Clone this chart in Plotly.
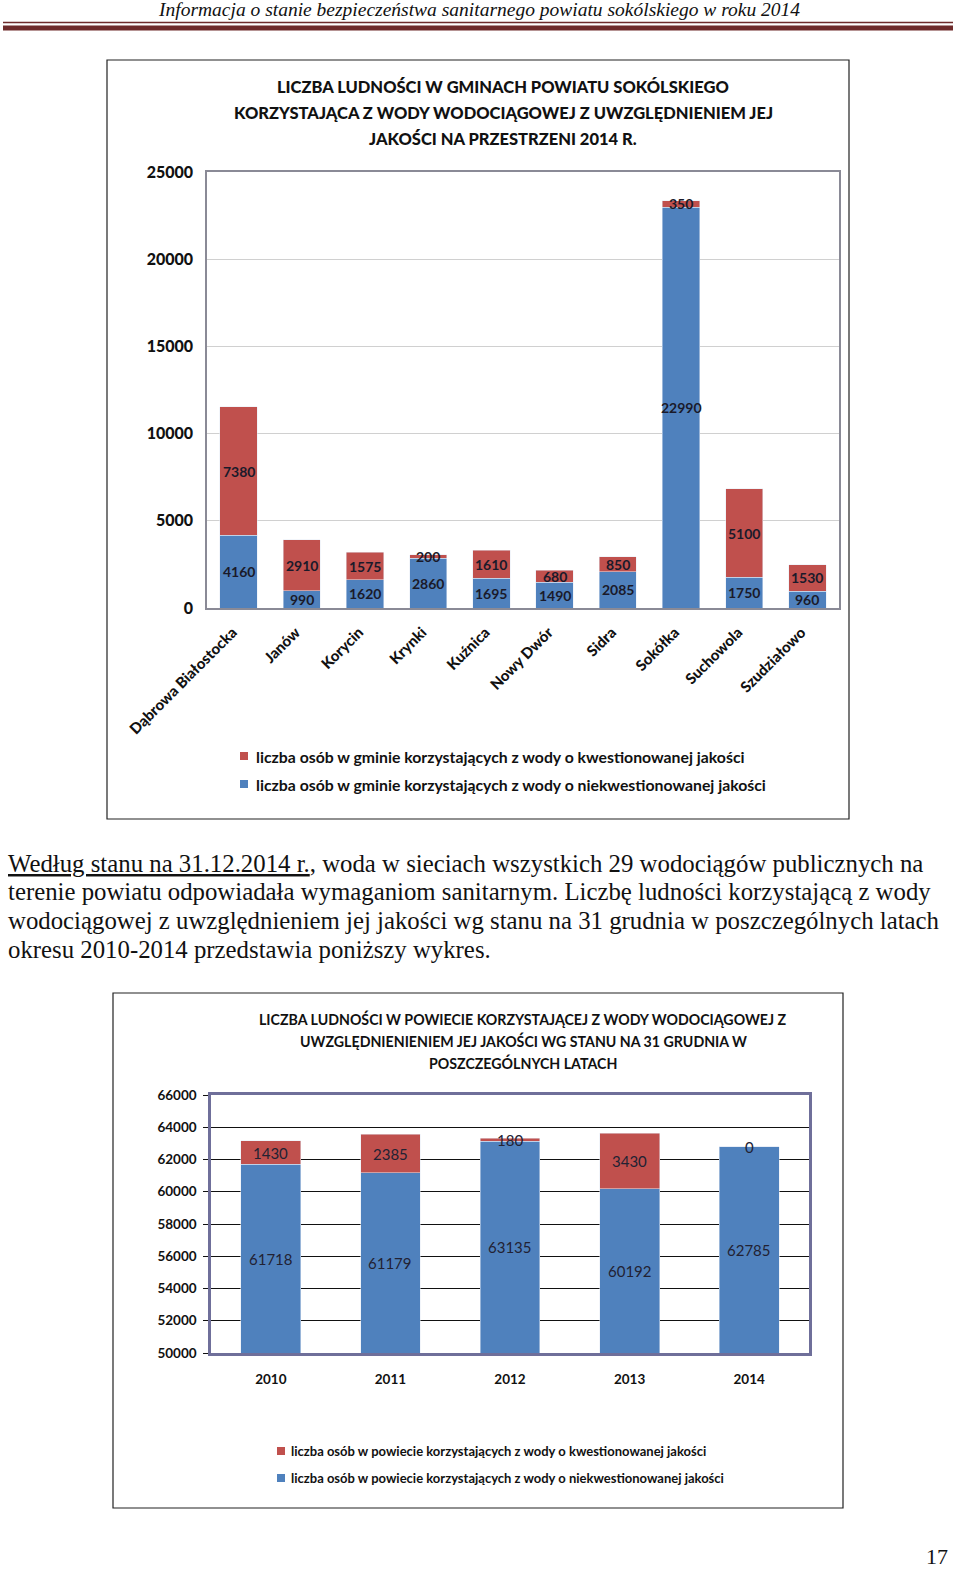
import plotly.graph_objects as go

W, H = 960, 1570


def px(x):
    return x / W


def py(y):
    return 1 - y / H


# ---------------- data ----------------
gminy = ["Dąbrowa Białostocka", "Janów", "Korycin", "Krynki", "Kuźnica",
         "Nowy Dwór", "Sidra", "Sokółka", "Suchowola", "Szudziałowo"]
gm_ok = [4160, 990, 1620, 2860, 1695, 1490, 2085, 22990, 1750, 960]
gm_bad = [7380, 2910, 1575, 200, 1610, 680, 850, 350, 5100, 1530]

lata = ["2010", "2011", "2012", "2013", "2014"]
pw_ok = [61718, 61179, 63135, 60192, 62785]
pw_bad = [1430, 2385, 180, 3430, 0]

names1 = ["liczba osób w gminie korzystających z wody o kwestionowanej jakości",
          "liczba osób w gminie korzystających z wody o niekwestionowanej jakości"]
names2 = ["liczba osób w powiecie korzystających z wody o kwestionowanej jakości",
          "liczba osób w powiecie korzystających z wody o niekwestionowanej jakości"]

title1 = ["LICZBA LUDNOŚCI W GMINACH POWIATU SOKÓLSKIEGO",
          "KORZYSTAJĄCA Z WODY WODOCIĄGOWEJ Z UWZGLĘDNIENIEM JEJ",
          "JAKOŚCI NA PRZESTRZENI 2014 R."]
title2 = ["LICZBA LUDNOŚCI W POWIECIE KORZYSTAJĄCEJ Z WODY WODOCIĄGOWEJ Z",
          "UWZGLĘDNIENIENIEM JEJ JAKOŚCI WG STANU NA 31 GRUDNIA W",
          "POSZCZEGÓLNYCH LATACH"]

header = "Informacja o stanie bezpieczeństwa sanitarnego powiatu sokólskiego w roku 2014"
para = ["<u>Według stanu na 31.12.2014 r.</u>, woda w sieciach wszystkich 29 wodociągów publicznych na",
        "terenie powiatu odpowiadała wymaganiom sanitarnym. Liczbę ludności korzystającą z wody",
        "wodociągowej z uwzględnieniem jej jakości wg stanu na 31 grudnia w poszczególnych latach",
        "okresu 2010-2014 przedstawia poniższy wykres."]

BLUE = "#4F81BD"
RED = "#C0504D"
MAROON = "#6E2B2B"
SANS = "Lato, 'Open Sans', sans-serif"
SERIF = "'Liberation Serif', 'DejaVu Serif', serif"

fig = go.Figure()

# chart 1 bars
fig.add_bar(x=gminy, y=gm_ok, marker_color=BLUE, width=0.59, name=names1[1],
            xaxis="x", yaxis="y", showlegend=False, hoverinfo="skip")
fig.add_bar(x=gminy, y=gm_bad, marker_color=RED, width=0.59, name=names1[0],
            xaxis="x", yaxis="y", showlegend=False, hoverinfo="skip")
# chart 2 bars
fig.add_bar(x=lata, y=pw_ok, marker_color=BLUE, width=0.5, name=names2[1],
            xaxis="x2", yaxis="y2", showlegend=False, hoverinfo="skip")
fig.add_bar(x=lata, y=pw_bad, marker_color=RED, width=0.5, name=names2[0],
            xaxis="x2", yaxis="y2", showlegend=False, hoverinfo="skip")

ann = []
shapes = []

# data labels chart 1 (category index positions)
for i, (ok, bad) in enumerate(zip(gm_ok, gm_bad)):
    ann.append(dict(x=i, y=ok / 2, xref="x", yref="y", text=str(ok), showarrow=False,
                    font=dict(family=SANS, size=14, color="#1a1a2a", weight=700)))
    ann.append(dict(x=i, y=ok + bad / 2, xref="x", yref="y", text=str(bad), showarrow=False,
                    font=dict(family=SANS, size=14, color="#1a1a2a", weight=700)))

# data labels chart 2 (centred in visible part of each segment)
y2min, y2max = 50000, 66000
for i, (ok, bad) in enumerate(zip(pw_ok, pw_bad)):
    ann.append(dict(x=i, y=(y2min + ok) / 2, xref="x2", yref="y2", text=str(ok),
                    showarrow=False, font=dict(family=SANS, size=15, color="#222233")))
    ann.append(dict(x=i, y=ok + bad / 2, xref="x2", yref="y2", text=str(bad),
                    showarrow=False, font=dict(family=SANS, size=15, color="#222233")))

# titles
for i, t in enumerate(title1):
    ann.append(dict(x=px(503), y=py(87 + 26 * i), xref="paper", yref="paper", text=t,
                    showarrow=False, xanchor="center", yanchor="middle",
                    font=dict(family=SANS, size=16.5, color="#111", weight=900)))
for i, t in enumerate(title2):
    ann.append(dict(x=px(523), y=py(1019 + 22 * i), xref="paper", yref="paper", text=t,
                    showarrow=False, xanchor="center", yanchor="middle",
                    font=dict(family=SANS, size=14.2, color="#111", weight=700)))

# legends (manual)
for i, (nm, col) in enumerate(zip(names1, [RED, BLUE])):
    yc = 756 + 28 * i
    shapes.append(dict(type="rect", xref="paper", yref="paper", x0=px(240), x1=px(248),
                       y0=py(yc + 4), y1=py(yc - 4), fillcolor=col, line_width=0))
    ann.append(dict(x=px(254), y=py(yc), xref="paper", yref="paper", text=nm, showarrow=False,
                    xanchor="left", yanchor="middle",
                    font=dict(family=SANS, size=15.8, color="#111", weight=700)))
for i, (nm, col) in enumerate(zip(names2, [RED, BLUE])):
    yc = 1451 + 27 * i
    shapes.append(dict(type="rect", xref="paper", yref="paper", x0=px(277), x1=px(285),
                       y0=py(yc + 4), y1=py(yc - 4), fillcolor=col, line_width=0))
    ann.append(dict(x=px(289), y=py(yc), xref="paper", yref="paper", text=nm, showarrow=False,
                    xanchor="left", yanchor="middle",
                    font=dict(family=SANS, size=13, color="#111", weight=700)))

# chart frames
shapes.append(dict(type="rect", xref="paper", yref="paper", x0=px(107), x1=px(849),
                   y0=py(819), y1=py(60), line=dict(color="#222", width=1.2)))
shapes.append(dict(type="rect", xref="paper", yref="paper", x0=px(113), x1=px(843),
                   y0=py(1508), y1=py(993), line=dict(color="#222", width=1.2)))

# header
ann.append(dict(x=px(479), y=py(10), xref="paper", yref="paper", text=header, showarrow=False,
                xanchor="center", yanchor="middle",
                font=dict(family=SERIF, size=19.5, color="#111", style="italic")))
shapes.append(dict(type="line", xref="paper", yref="paper", x0=px(3), x1=px(953),
                   y0=py(22.5), y1=py(22.5), line=dict(color=MAROON, width=1.5)))
shapes.append(dict(type="line", xref="paper", yref="paper", x0=px(3), x1=px(953),
                   y0=py(28), y1=py(28), line=dict(color=MAROON, width=5)))

# paragraph
for i, t in enumerate(para):
    ann.append(dict(x=px(6), y=py(863 + 28.8 * i), xref="paper", yref="paper", text=t,
                    showarrow=False, xanchor="left", yanchor="middle",
                    font=dict(family=SERIF, size=24.8, color="#111")))

# page number
ann.append(dict(x=px(937), y=py(1556), xref="paper", yref="paper", text="17", showarrow=False,
                xanchor="center", yanchor="middle", font=dict(family=SERIF, size=22, color="#111")))

fig.update_layout(
    width=W, height=H, margin=dict(l=0, r=0, t=0, b=0, autoexpand=False),
    paper_bgcolor="white", plot_bgcolor="white",
    barmode="stack", showlegend=False,
    annotations=ann, shapes=shapes,
    xaxis=dict(domain=[px(207), px(839)], anchor="y", type="category", tickangle=-45,
               range=[-0.5, len(gminy) - 0.5],
               showgrid=False, automargin=False,
               showline=True, mirror=True, linecolor="#8a8a96", linewidth=1.5,
               ticks="", ticklabelstandoff=8, ticklabelshift=-6,
               tickfont=dict(family=SANS, size=15, color="#111", weight=900)),
    yaxis=dict(domain=[py(608), py(172)], anchor="x", range=[0, 25000],
               tickvals=[0, 5000, 10000, 15000, 20000, 25000], tickformat="d",
               showgrid=True, gridcolor="#d0d0d0", gridwidth=1, automargin=False,
               showline=True, mirror=True, linecolor="#8a8a96", linewidth=1.5,
               zeroline=False, ticks="", ticklabelstandoff=9,
               tickfont=dict(family=SANS, size=16, color="#111", weight=900)),
    xaxis2=dict(domain=[px(211), px(809)], anchor="y2", type="category",
                range=[-0.5, len(lata) - 0.5], showgrid=False, automargin=False,
                showline=True, mirror=True, linecolor="#6f6f9a", linewidth=2.5,
                ticks="", ticklabelstandoff=12,
                tickfont=dict(family=SANS, size=13.5, color="#111", weight=700)),
    yaxis2=dict(domain=[py(1353), py(1095)], anchor="x2", range=[y2min, y2max],
                tickvals=list(range(50000, 66001, 2000)), tickformat="d",
                showgrid=True, gridcolor="#111", gridwidth=1, automargin=False,
                showline=True, mirror=True, linecolor="#6f6f9a", linewidth=2.5,
                zeroline=False, ticks="outside", ticklen=5, tickcolor="#111",
                ticklabelstandoff=4,
                tickfont=dict(family=SANS, size=13.5, color="#111", weight=700)),
)

fig.write_html("out.html", config={"displayModeBar": False},
               post_script="document.body.style.margin='0px';")
